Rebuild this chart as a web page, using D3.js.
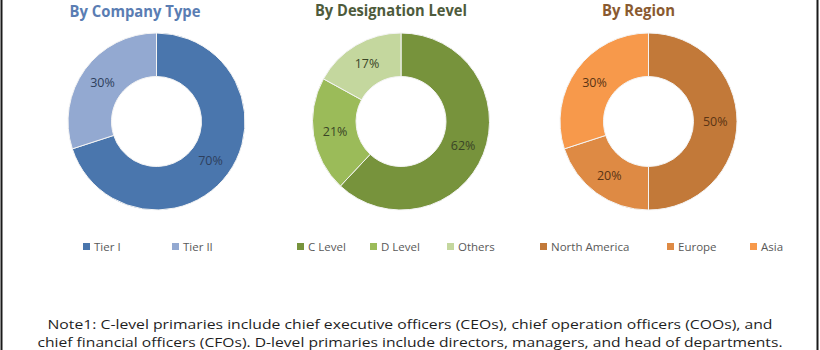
<!DOCTYPE html>
<html>
<head>
<meta charset="utf-8">
<script src="https://cdn.jsdelivr.net/npm/d3@7/dist/d3.min.js"></script>
<style>
  html, body { margin: 0; padding: 0; background: #ffffff; }
  svg { display: block; font-family: "Open Sans", "DejaVu Sans", sans-serif; }
</style>
</head>
<body>
<svg id="chart" width="820" height="350"></svg>
<script>
// Breakdown of primary interviews
const companyTypes = ["Tier I", "Tier II"];
const companyShares = [70, 30];

const designationLevels = ["C Level", "D Level", "Others"];
const designationShares = [62, 21, 17];

const regions = ["North America", "Europe", "Asia"];
const regionShares = [50, 20, 30];

const panelTitles = ["By Company Type", "By Designation Level", "By Region"];

const noteLines = [
  "Note1: C-level primaries include chief executive officers (CEOs), chief operation officers (COOs), and",
  "chief financial officers (CFOs). D-level primaries include directors, managers, and head of departments."
];

const panels = [
  {
    title: panelTitles[0], labels: companyTypes, values: companyShares,
    colors: ["#4a76ad", "#93a9d1"], titleColor: "#5a7db3", labelColor: "#2e3f5c",
    cx: 156.5, titleX: 135, titleY: 17, titleW: 131,
    legendX: [83, 172]
  },
  {
    title: panelTitles[1], labels: designationLevels, values: designationShares,
    colors: ["#77933c", "#9bbb59", "#c4d79e"], titleColor: "#4e5b3c", labelColor: "#3a4526",
    cx: 401, titleX: 391, titleY: 16, titleW: 152,
    legendX: [297, 370, 447]
  },
  {
    title: panelTitles[2], labels: regions, values: regionShares,
    colors: ["#c27939", "#de8a44", "#f7994b"], titleColor: "#8a5a30", labelColor: "#5a3414",
    cx: 648.5, titleX: 638.5, titleY: 15.5, titleW: 73,
    legendX: [540, 667, 750]
  }
];

const svg = d3.select("#chart");
const cy = 121.5;
const innerR = 45, outerR = 88.5;

// Frame edges on the left and right
svg.append("line").attr("x1", 1.5).attr("x2", 1.5).attr("y1", 0).attr("y2", 350)
  .attr("stroke", "#1a1a1a").attr("stroke-width", 2);
svg.append("line").attr("x1", 817.5).attr("x2", 817.5).attr("y1", 0).attr("y2", 350)
  .attr("stroke", "#1a1a1a").attr("stroke-width", 2);

const pie = d3.pie().sort(null).value(d => d.value).startAngle(0).endAngle(2 * Math.PI);
const arc = d3.arc().innerRadius(innerR).outerRadius(outerR);

panels.forEach(p => {
  const data = p.labels.map((l, i) => ({ label: l, value: p.values[i] }));
  const color = d3.scaleOrdinal().domain(p.labels).range(p.colors);

  // Title
  svg.append("text")
    .attr("x", p.titleX).attr("y", p.titleY)
    .attr("text-anchor", "middle")
    .attr("font-size", 16).attr("font-weight", "bold")
    .attr("fill", p.titleColor)
    .attr("textLength", p.titleW).attr("lengthAdjust", "spacingAndGlyphs")
    .text(p.title);

  const g = svg.append("g").attr("transform", `translate(${p.cx},${cy})`);
  const arcs = pie(data);

  g.selectAll("path").data(arcs).join("path")
    .attr("d", arc)
    .attr("fill", d => color(d.data.label))
    .attr("stroke", "#f4f4f4").attr("stroke-width", 1);

  g.selectAll("text").data(arcs).join("text")
    .attr("transform", d => `translate(${arc.centroid(d)})`)
    .attr("text-anchor", "middle").attr("dy", "0.35em")
    .attr("font-size", 12.5)
    .attr("fill", p.labelColor)
    .text(d => d.data.value + "%");

  // Legend
  const lg = svg.append("g");
  p.labels.forEach((l, i) => {
    lg.append("rect")
      .attr("x", p.legendX[i]).attr("y", 243)
      .attr("width", 7).attr("height", 7)
      .attr("fill", color(l));
    lg.append("text")
      .attr("x", p.legendX[i] + 11).attr("y", 250.5)
      .attr("font-size", 11.5).attr("fill", "#595959")
      .text(l);
  });
});

// Footnote
const noteY = [329, 347];
const noteW = [725, 745];
noteLines.forEach((t, i) => {
  svg.append("text")
    .attr("x", 410).attr("y", noteY[i])
    .attr("text-anchor", "middle")
    .attr("font-size", 13).attr("fill", "#1e1e1e")
    .attr("textLength", noteW[i]).attr("lengthAdjust", "spacingAndGlyphs")
    .text(t);
});
</script>
</body>
</html>
